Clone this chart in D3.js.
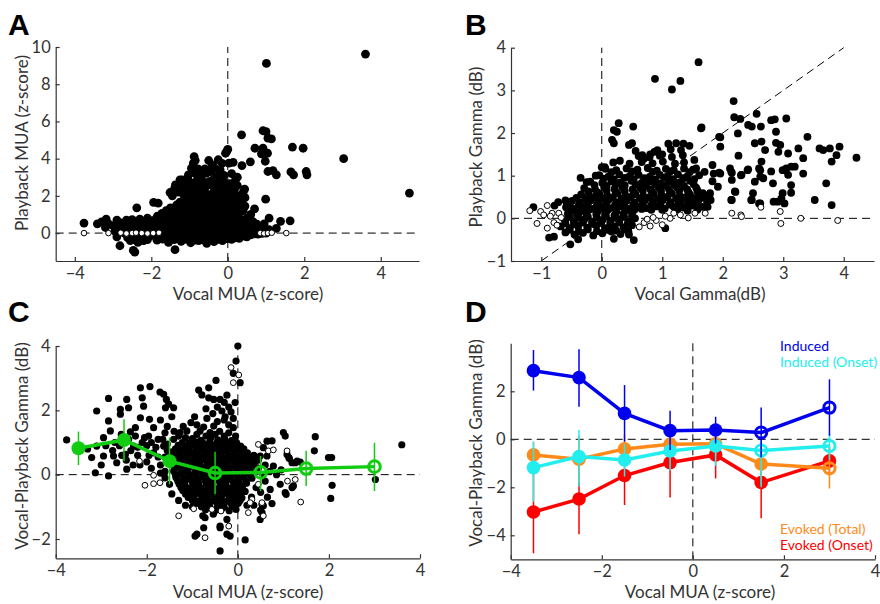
<!DOCTYPE html>
<html>
<head>
<meta charset="utf-8">
<script src="https://cdn.jsdelivr.net/npm/d3@7"></script>
<style>
    body { margin: 0; background: #fff; }
    text { font-family: Lato, "Open Sans", sans-serif; }
</style>
</head>
<body>
<svg id="fig" width="880" height="604"></svg>
<script>
// ---- data ----
// A: vocal MUA vs playback MUA (z-score)
const aFilled = [
    [1.01,9.12],[3.6,9.62],[4.75,2.15],[3.03,4.0],[0.36,5.28],[0.92,5.5],[1.0,5.45],[1.05,5.1],[1.14,5.06],[0.71,4.56],
    [0.92,4.56],[1.04,4.29],[0.88,4.26],[0.98,3.86],[0.59,3.83],[0.37,3.63],[0.14,3.8],[0.03,3.76],[-0.03,4.38],[0.0,4.5],
    [1.69,4.62],[1.97,4.56],[1.05,3.31],[1.27,3.13],[1.18,3.36],[1.65,3.29],[1.72,3.13],[2.05,3.31],[2.07,3.13],[0.99,1.82],
    [1.08,0.8],[1.38,0.63],[1.63,0.66],[1.27,0.25],[1.08,0.18],
    [-3.76,0.54],[-3.41,0.5],[-3.18,0.75],[-3.12,0.5],[-2.38,1.36],[-2.82,-0.68],[-2.47,-0.93],[-2.43,-1.02],[-1.38,-0.89],
    [-1.94,1.65],[-1.82,1.61],
    [-1.51,2.18],[-1.25,2.86],[-1.03,3.13],[-0.88,4.11],[-0.9,3.76],[-0.95,3.49],[-0.91,3.3],[-1.27,2.5],[-0.96,2.18],
    [-1.37,2.59],[-1.19,2.86],[-1.16,2.5],[-0.67,3.13],[-0.41,3.67],[-0.25,3.94],[-0.06,4.29],[-0.3,3.04],[-0.7,3.04],
    [-0.73,2.59],[-0.56,3.22],[-0.49,2.77],[-0.21,2.77],[-0.03,2.5],[0.14,2.42],[0.44,2.36],[0.4,2.18],[0.15,1.57],
    [0.17,2.3],[0.05,2.2],[-0.2,3.4],
    [-1.45,2.0],[-1.3,2.2],[-1.15,2.05],[-1.0,2.35],[-0.85,2.4],[-0.95,2.7],[-0.8,2.85],[-0.65,2.75],[-0.55,2.55],
    [-0.4,2.85],[-0.25,2.6],[-0.1,2.75],[0.05,2.65],[0.25,2.55],[-1.1,2.65],[-1.05,2.95],[-0.85,3.2],[-0.78,3.45],
    [-0.6,3.45],[-0.45,3.3],[-0.35,3.5],[-0.1,3.1],[0.1,3.2],[0.25,3.0],[-0.5,3.9],[-0.85,3.9],[-0.15,3.75],[0.2,2.85],
    [-0.6,2.2],[-1.2,2.3],[-1.4,2.35],[-0.3,2.0],[0.15,2.0],[-0.05,2.0],[0.3,1.75],[-0.2,1.7],[-0.45,1.75],
    [-2.9,0.7],[-2.8,0.55],[-2.75,0.2],[-2.65,0.7],[-2.6,0.35],[-2.55,0.05],[-2.5,0.72],[-2.45,-0.35],[-2.4,0.45],
    [-2.35,0.15],[-2.3,0.75],[-2.25,-0.2],[-2.2,0.5],[-2.15,0.2],[-2.1,0.8],[-2.05,-0.05],[-2.9,-0.2],[-2.55,-0.4],
    [-2.62,-0.25],[-2.35,-0.5],[-3.0,0.4],[-2.95,0.1],
    [-2.85,0.35],[-2.7,0.45],[-2.7,0.0],[-2.5,0.25],[-2.45,0.6],[-2.3,0.35],[-2.25,0.6],[-2.15,0.45],[-2.1,0.05],
    [-2.3,-0.05],[-2.45,-0.15],[-2.0,0.65],[-2.6,0.55],[-3.2,0.3],[-3.3,0.6],[-2.1,-0.35],[-2.2,-0.4],
    [0.6,0.4],[0.75,0.2],[0.9,0.35],[1.0,0.0],[0.95,0.5],[0.5,0.8],[0.6,1.0],[0.4,1.2],[0.7,1.3],[0.45,1.45],
    [0.25,1.3],[0.35,1.6],[0.45,1.9],[0.3,2.0],
    [-1.85,-0.38],[-1.55,-0.5],[-1.22,-0.44],[-0.97,-0.52],[-0.76,-0.4],[-0.55,-0.55],[-0.36,-0.46],[-0.14,-0.41],[0.1,-0.34],[0.3,-0.28],
    [-1.7,-0.32],[-1.4,-0.35],[-1.1,-0.33],[-0.85,-0.38],[-0.65,-0.36],[-0.45,-0.35],[-0.25,-0.34],[-0.02,-0.3],[0.2,-0.25],[0.5,-0.2],
    [-2.0,-0.14],[-1.82,-0.22],[-1.66,-0.26],[-1.47,-0.15],[-1.31,-0.24],[-1.12,-0.19],[-0.96,-0.13],[-0.81,-0.26],[-0.64,-0.2],
    [-0.5,-0.31],[-0.34,-0.19],[-0.21,-0.26],[-0.05,-0.14],[0.11,-0.21],[0.26,-0.1],[0.44,-0.16],[0.61,-0.09],[0.79,-0.05],
    [-1.9,-0.05],[-1.6,-0.08],[-1.38,-0.1],[-1.2,-0.05],[-1.03,-0.06],[-0.88,-0.1],[-0.72,-0.05],[-0.57,-0.1],[-0.42,-0.06],
    [-0.27,-0.09],[-0.12,-0.05],[0.03,-0.08],[0.18,-0.04],[0.35,-0.06],[0.52,-0.02],[0.7,-0.04],[0.9,-0.02],
    [-1.98,0.11],[-1.84,0.01],[-1.71,0.06],[-1.56,0.12],[-1.41,-0.01],[-1.26,0.06],[-1.09,0.11],[-0.94,0.0],[-0.79,0.06],
    [-0.66,0.12],[-0.51,0.01],[-0.34,0.05],[-0.19,0.11],[-0.04,-0.01],[0.11,0.06],[0.24,0.12],[0.41,0.01],[0.56,0.11],
    [0.71,0.04],[0.86,0.12],[1.0,0.16],
    [-1.92,0.22],[-1.78,0.17],[-1.63,0.2],[-1.48,0.24],[-1.33,0.17],[-1.18,0.16],[-1.03,0.22],[-0.87,0.18],[-0.73,0.17],
    [-0.57,0.22],[-0.43,0.18],[-0.28,0.16],[-0.13,0.22],[0.03,0.18],[0.18,0.16],[0.33,0.22],[0.48,0.18],[0.63,0.2],[0.78,0.22],
    [-2.02,0.36],[-1.86,0.29],[-1.71,0.24],[-1.54,0.36],[-1.39,0.31],[-1.24,0.24],[-1.11,0.36],[-0.94,0.29],[-0.81,0.24],
    [-0.64,0.36],[-0.49,0.31],[-0.36,0.24],[-0.19,0.36],[-0.06,0.29],[0.11,0.24],[0.26,0.36],[0.39,0.3],[0.56,0.24],
    [0.69,0.36],[0.86,0.31],
    [-1.9,0.47],[-1.78,0.44],[-1.63,0.48],[-1.47,0.45],[-1.32,0.43],[-1.17,0.48],[-1.02,0.45],[-0.87,0.42],[-0.72,0.48],
    [-0.57,0.45],[-0.42,0.43],[-0.27,0.48],[-0.12,0.45],[0.03,0.42],[0.18,0.47],[0.38,0.44],[0.58,0.45],[0.76,0.48],
    [-1.94,0.61],[-1.79,0.54],[-1.66,0.66],[-1.49,0.6],[-1.36,0.54],[-1.19,0.66],[-1.06,0.59],[-0.89,0.54],[-0.76,0.66],
    [-0.59,0.6],[-0.46,0.54],[-0.29,0.66],[-0.16,0.59],[0.01,0.54],[0.14,0.66],[0.31,0.5],[0.49,0.56],[0.66,0.61],
    [-1.88,0.76],[-1.73,0.72],[-1.58,0.77],[-1.43,0.74],[-1.28,0.7],[-1.13,0.77],[-0.98,0.74],[-0.83,0.7],[-0.68,0.77],
    [-0.53,0.74],[-0.38,0.7],[-0.23,0.77],[-0.08,0.73],[0.08,0.76],[0.22,0.72],[0.4,0.7],[0.58,0.74],
    [-1.84,0.91],[-1.71,0.84],[-1.54,0.96],[-1.41,0.9],[-1.24,0.84],[-1.11,0.96],[-0.94,0.89],[-0.81,0.84],[-0.64,0.96],
    [-0.51,0.9],[-0.34,0.84],[-0.21,0.96],[-0.04,0.86],[0.11,0.91],[0.29,0.84],
    [-1.72,1.06],[-1.57,1.02],[-1.42,1.07],[-1.27,1.04],[-1.12,1.0],[-0.97,1.07],[-0.82,1.04],[-0.67,1.0],[-0.52,1.07],
    [-0.37,1.04],[-0.22,1.0],[-0.07,1.06],[0.1,1.03],[0.22,1.1],
    [-1.61,1.21],[-1.44,1.14],[-1.31,1.26],[-1.14,1.2],[-1.01,1.14],[-0.84,1.26],[-0.71,1.19],[-0.54,1.14],[-0.41,1.26],
    [-0.24,1.2],[-0.11,1.14],[0.06,1.26],
    [-1.5,1.36],[-1.37,1.32],[-1.22,1.37],[-1.07,1.33],[-0.92,1.3],[-0.77,1.37],[-0.62,1.34],[-0.47,1.3],[-0.32,1.37],
    [-0.17,1.33],[-0.02,1.3],[0.12,1.4],
    [-1.34,1.51],[-1.19,1.56],[-1.06,1.44],[-0.89,1.5],[-0.76,1.56],[-0.59,1.44],[-0.46,1.51],[-0.29,1.56],[-0.16,1.44],
    [-1.25,1.66],[-1.12,1.62],[-0.97,1.68],[-0.82,1.64],[-0.67,1.6],[-0.52,1.67],[-0.37,1.63],[-0.2,1.6],[-0.05,1.65],
    [-1.09,1.81],[-0.96,1.86],[-0.79,1.74],[-0.66,1.8],[-0.49,1.86],[-0.31,1.75],[0.01,1.79],
    [-1.0,1.96],[-0.87,1.92],[-0.72,1.98],[-0.57,1.94],[-0.42,1.92],[-0.25,1.97],
    [-0.86,2.11],[-0.69,2.21],[-0.56,2.04],[-0.39,2.16],[-0.21,2.09],
    [-0.76,2.51],[-0.61,2.41],[-0.44,2.61],[-0.34,2.31],[-0.14,2.36]
];
const aOpen = [
    [-3.76,0],[-3.12,0],[-2.8,0.02],[-2.65,-0.02],[-2.5,0],[-2.4,0.02],[-2.25,0],[-2.1,-0.02],[-1.95,0],
    [-1.8,0.02],[0.85,0],[0.95,-0.02],[1.05,0],[1.15,0.02],[1.53,0]
];

// B: vocal gamma vs playback gamma (dB)
const bFilled = [
    [1.6,3.66],[0.88,3.27],[1.16,3.02],[1.3,3.22],[2.18,2.75],[2.19,2.37],[2.29,2.33],[2.56,2.45],[2.42,2.19],[2.48,2.15],
    [2.63,2.15],[2.8,2.3],[2.86,2.32],[3.05,2.34],[2.88,2.03],[2.25,1.99],[1.65,2.13],[1.96,1.9],[1.96,1.68],[2.53,1.76],
    [2.64,1.8],[2.7,1.6],[2.88,1.77],[2.95,1.72],[2.92,1.56],[3.08,1.52],[3.25,1.64],[3.4,1.91],[3.6,1.64],[3.66,1.6],
    [3.77,1.64],[3.93,1.68],[3.88,1.48],[3.8,1.33],[4.21,1.42],[2.26,1.47],[2.15,1.07],[2.15,0.9],[2.31,1.02],[2.42,1.15],
    [2.62,1.13],[2.62,0.98],[2.67,0.94],[2.53,0.86],[2.8,1.1],[2.83,0.82],[2.99,1.13],[3.05,1.17],[3.13,1.21],[3.19,1.21],
    [3.08,1.02],[3.33,1.05],[3.13,0.78],[3.13,0.6],[2.99,0.59],[2.97,0.47],[2.91,0.39],[2.84,0.39],[3.02,0.35],[3.52,0.43],
    [3.71,0.82],[3.8,0.31],[3.33,1.41],[2.2,0.63],[2.15,0.43],[2.48,0.43],[2.62,0.35],[2.5,0.59],[2.12,1.17],[1.79,0.59],
    [1.85,1.05],[1.96,1.05],
    [0.25,2.03],[0.2,2.07],[0.17,1.84],[0.2,1.76],[0.52,2.15],[0.28,2.23],[0.45,1.72],[0.5,1.76],[0.67,1.48],[0.87,1.56],
    [0.92,1.6],[1.23,1.76],[1.64,2.11],[1.94,1.91],[1.53,1.37],[1.56,1.17],[1.7,1.09],[1.83,1.25],[1.94,1.07],[1.83,0.87],
    [1.92,0.74],[1.78,0.55],[1.8,0.43],[1.67,0.59],[1.75,0.27],[2.14,1.09],[2.3,1.01],[2.41,1.13],[2.21,0.62],[2.14,0.43],
    [2.47,0.43],[2.6,0.35],[2.6,1.17],[2.64,1.33],[1.35,1.75],[1.45,1.7],[1.1,1.75],[0.8,1.5],[1.0,1.5],[0.0,1.2],
    [-0.1,1.0],[0.05,1.2],[-0.35,0.95],[-0.25,0.85],[0.3,1.35],[0.7,1.4],
    [1.05,-0.23],[0.2,-0.48],[0.53,-0.51],[0.45,-0.38],[-0.52,-0.61],[-0.39,-0.49],[-0.87,-0.45],[-0.79,-0.43],
    [-1.13,0.26],[-0.78,0.3],[-0.72,0.38],[-0.6,0.42],
    [-0.6,-0.33],[-0.45,-0.38],[-0.31,-0.34],[-0.14,-0.4],[0.01,-0.35],[0.16,-0.31],[0.31,-0.37],[0.44,-0.3],
    [-0.53,-0.27],[-0.38,-0.3],[-0.23,-0.26],[-0.08,-0.3],[0.09,-0.27],[0.24,-0.29],[0.38,-0.26],
    [-0.68,-0.19],[-0.53,-0.23],[-0.39,-0.18],[-0.24,-0.22],[-0.09,-0.17],[0.06,-0.23],[0.21,-0.19],[0.36,-0.21],[0.5,-0.16],
    [-0.6,-0.12],[-0.46,-0.14],[-0.31,-0.1],[-0.16,-0.13],[-0.01,-0.11],[0.14,-0.14],[0.29,-0.1],[0.43,-0.12],
    [-0.61,-0.04],[-0.46,-0.07],[-0.29,-0.03],[-0.16,-0.08],[0.01,-0.04],[0.14,-0.06],[0.29,-0.02],[0.46,-0.07],[0.55,0.0],
    [-0.53,0.03],[-0.38,0.01],[-0.23,0.04],[-0.08,0.02],[0.07,0.05],[0.22,0.01],[0.37,0.03],[0.5,0.05],
    [-0.56,0.11],[-0.41,0.08],[-0.26,0.12],[-0.09,0.09],[0.06,0.12],[0.21,0.07],[0.36,0.11],[0.5,0.13],[1.42,0.18],[1.58,0.2],
    [-0.51,0.18],[-0.36,0.16],[-0.21,0.2],[-0.06,0.17],[0.09,0.19],[0.24,0.15],[0.39,0.18],[0.54,0.2],[0.66,0.22],
    [0.82,0.2],[1.0,0.2],[1.25,0.2],
    [-0.59,0.26],[-0.44,0.23],[-0.29,0.27],[-0.16,0.22],[0.01,0.26],[0.14,0.24],[0.31,0.28],[0.44,0.22],[0.59,0.27],
    [0.74,0.24],[0.91,0.28],[1.04,0.23],[1.19,0.27],[1.36,0.25],[1.49,0.3],[1.66,0.27],
    [-0.53,0.33],[-0.38,0.31],[-0.23,0.35],[-0.08,0.32],[0.07,0.34],[0.22,0.31],[0.37,0.35],[0.52,0.32],[0.67,0.34],
    [0.82,0.31],[0.97,0.35],[1.12,0.32],[1.27,0.34],[1.42,0.32],[1.57,0.35],
    [-0.49,0.41],[-0.36,0.38],[-0.19,0.42],[-0.06,0.39],[0.11,0.43],[0.24,0.38],[0.41,0.41],[0.54,0.37],[0.71,0.42],
    [0.84,0.39],[1.01,0.43],[1.14,0.38],[1.31,0.41],[1.44,0.4],[1.61,0.44],[1.74,0.39],
    [-0.42,0.48],[-0.27,0.46],[-0.12,0.5],[0.03,0.47],[0.18,0.49],[0.33,0.46],[0.48,0.5],[0.63,0.47],[0.78,0.49],
    [0.93,0.46],[1.08,0.5],[1.23,0.47],[1.38,0.49],[1.53,0.46],[1.68,0.5],
    [-0.34,0.56],[-0.21,0.53],[-0.04,0.57],[0.09,0.54],[0.26,0.58],[0.39,0.53],[0.56,0.56],[0.69,0.52],[0.86,0.57],
    [0.99,0.54],[1.16,0.58],[1.29,0.53],[1.46,0.56],[1.59,0.6],
    [-0.22,0.63],[-0.07,0.61],[0.08,0.65],[0.23,0.62],[0.38,0.64],[0.53,0.61],[0.68,0.65],[0.83,0.62],[0.98,0.64],
    [1.13,0.61],[1.28,0.65],[1.43,0.62],[1.58,0.66],
    [-0.29,0.71],[-0.11,0.68],[0.04,0.72],[0.21,0.69],[0.34,0.73],[0.51,0.68],[0.64,0.71],[0.81,0.67],[0.94,0.72],
    [1.11,0.69],[1.24,0.73],[1.41,0.68],[1.56,0.72],
    [-0.12,0.78],[0.08,0.76],[0.23,0.8],[0.38,0.77],[0.56,0.79],[0.73,0.76],[0.88,0.8],[1.03,0.77],[1.2,0.79],
    [1.36,0.76],[1.52,0.8],
    [-0.19,0.86],[0.01,0.83],[0.16,0.87],[0.31,0.84],[0.49,0.88],[0.66,0.83],[0.79,0.86],[0.96,0.82],[1.11,0.87],
    [1.29,0.84],[1.46,0.88],
    [0.03,0.93],[0.2,0.91],[0.38,0.95],[0.53,0.92],[0.7,0.94],[0.88,0.91],[1.03,0.95],[1.18,0.92],[1.35,0.94],[1.53,0.92],
    [-0.04,1.01],[0.11,0.98],[0.29,1.03],[0.46,0.99],[0.61,1.02],[0.79,0.97],[0.96,1.02],[1.09,0.99],[1.26,1.03],
    [1.41,0.98],[1.61,1.01],
    [0.16,1.08],[0.5,1.1],[0.84,1.09],[1.13,1.1],[1.45,1.08],
    [0.06,1.16],[0.24,1.13],[0.41,1.17],[0.59,1.14],[0.76,1.18],[0.91,1.12],[1.06,1.16],[1.19,1.13],[1.36,1.17],[1.51,1.14],
    [0.19,1.31],[0.46,1.28],[0.66,1.32],[0.84,1.29],[1.01,1.33],[1.21,1.28],[1.36,1.31],
    [0.61,1.46],[0.79,1.43],[0.96,1.47],[1.16,1.44],[1.34,1.48],
    [0.56,1.58],[1.14,1.62],[1.31,1.6]
];
const bOpen = [
    [-1.19,0.18],[-1.07,-0.12],[-1.01,0.16],[-0.96,0.08],[-0.9,-0.23],[-0.82,0.12],[-0.79,-0.1],[-0.74,-0.16],[-0.71,0.12],
    [-0.67,0.02],[2.15,0.12],[2.3,0.08],[2.31,0.04],[2.63,0.26],[2.95,0.16],[2.96,-0.12],[3.29,0],[3.9,-0.05],[1.43,0.01],
    [1.54,0.12],[1.71,0.12],[1.19,0.12],[1.13,0],[1.3,0.08],[0.7,-0.1],[0.8,-0.18],[0.9,-0.05],[1.0,-0.15],[0.85,0.02],
    [0.75,-0.02],[1.05,0.05],[0.62,-0.2],[-0.9,0.3],[-0.85,0.05]
];

// C: vocal MUA vs vocal-playback gamma
const cFilled = [
    [0.0,4.0],[-0.04,3.53],[-0.1,3.15],[0.05,2.86],[-0.48,2.93],[-0.64,2.7],[-0.86,2.63],[-0.79,2.48],[-0.64,2.39],
    [-0.53,2.34],[-0.39,2.34],[-0.24,2.47],[-0.06,2.24],[-0.35,1.98],[-0.15,1.95],[-0.28,1.8],[-0.68,1.75],[-0.75,1.48],
    [-0.83,1.36],[-1.03,1.62],[-0.61,1.31],[-0.53,1.51],[-0.1,1.46],[-0.2,1.3],[-0.4,1.35],
    [-1.3,1.2],[-1.15,1.15],[-0.9,1.25],[-0.7,1.2],[-0.5,1.25],[-0.3,1.2],[-0.05,1.2],[-0.9,1.55],[-0.45,1.65],
    [-0.2,1.55],[-0.3,1.7],[-0.55,1.9],[-0.1,1.75],[-0.45,2.1],[-0.2,2.1],[-0.3,2.25],[-0.7,2.05],[-1.2,1.5],
    [-1.4,1.35],[-1.55,1.5],[-1.45,1.8],[-1.7,1.7],[-0.95,1.8],
    [-1.71,2.57],[-1.63,2.5],[-1.57,2.34],[-1.52,2.19],[-1.41,2.08],[-1.59,2.08],[-1.93,2.74],[-2.14,2.7],[-2.1,2.39],
    [-2.07,2.13],[-2.44,2.34],[-2.4,2.08],[-2.58,2.03],[-2.58,1.88],[-2.14,1.77],[-1.94,1.72],[-1.85,1.46],[-1.96,1.2],
    [-2.25,1.46],[-2.36,1.33],[-2.56,1.25],[-2.8,1.36],[-2.84,1.67],[-3.1,1.98],[-2.84,2.37],[-3.1,0.89],[-2.95,0.58],
    [-3.21,0.53],[-3.13,0.06],[-2.84,-0.04],[-3.76,1.08],[-2.66,0.37],[-2.73,0.58],[-2.44,0.17],[-2.47,0.63],[-2.29,0.89],
    [-1.85,0.68],[-1.63,0.89],[-1.41,1.1],[-1.27,1.31],[-1.12,1.36],[-2.0,0.4],[-2.2,0.6],[-1.7,0.3],[-1.6,0.55],
    [-2.6,0.9],[-2.4,1.1],[-2.1,1.0],[-1.75,1.1],[-1.6,1.3],
    [-2.9,0.9],[-2.75,0.75],[-2.55,0.6],[-2.35,0.75],[-2.2,0.85],[-2.0,0.9],[-1.9,1.0],[-1.8,0.85],[-2.05,1.15],
    [-2.25,1.2],[-2.45,0.45],[-2.3,0.3],[-2.15,0.3],[-1.95,0.6],[-1.75,0.55],[-1.55,0.75],[-1.55,0.95],[-1.65,1.1],
    [-2.7,1.0],[-2.95,1.15],[-3.3,0.8],[-3.0,0.3],[-1.9,0.2],[-1.6,-0.1],[-1.7,0.05],
    [1.0,1.31],[1.04,1.2],[1.7,1.18],[2.06,0.53],[1.99,0.53],[1.68,0.74],[1.08,0.63],[1.13,0.5],[1.19,0.37],[1.26,0.37],
    [1.37,0.39],[2.07,-0.33],[2.04,-0.74],[3.6,0.93],[3.02,-0.15],[1.04,-0.56],[1.19,-0.4],[0.75,1.05],[0.49,0.58],
    [0.64,0.58],[0.78,0.27],[0.49,-1.39],[0.53,-1.18],[0.56,-0.97],[0.16,-2.03],[-0.24,-1.85],[-0.17,-1.91],[-0.39,-2.37],
    [-0.9,-1.85],[-0.94,-1.91],[-0.75,-1.65],[-0.72,-1.34],[-0.77,-1.28],[-0.39,-1.65],[-0.24,-1.39],[-0.53,-1.18],
    [1.12,0.53],[1.3,0.42],[1.22,-0.35],[1.06,-0.61],[0.93,-0.3],[0.71,-0.46],[0.64,1.04],[0.56,0.84],[0.53,-0.92],
    [0.5,-1.1],[-0.54,-1.23],[-0.39,-1.6],[0.45,0.2],[0.55,0.0],[0.6,-0.2],[0.4,-0.4],[0.3,-0.7],[0.35,0.6],[-1.5,-0.3],
    [-1.45,-0.6],[-1.3,-0.8],[-1.6,0.1],[-1.0,-1.0],[-1.15,-0.95],
    [0.45,0.45],[0.6,0.3],[0.7,0.1],[0.85,0.0],[0.95,0.15],[0.5,-0.55],[0.65,-0.7],[0.75,-0.9],[0.35,-0.95],[0.2,-0.95],
    [-1.0,1.12],[-0.81,1.07],[-0.6,1.13],[-0.44,1.08],[-0.29,1.11],[-0.14,1.06],
    [-1.22,1.0],[-1.07,0.98],[-0.92,1.02],[-0.77,0.99],[-0.62,1.01],[-0.47,0.97],[-0.33,1.02],[-0.18,0.98],[-0.03,1.0],
    [-1.31,0.91],[-1.14,0.87],[-1.01,0.93],[-0.86,0.88],[-0.69,0.92],[-0.56,0.87],[-0.39,0.91],[-0.26,0.88],[-0.09,0.93],[0.06,0.89],
    [-1.37,0.8],[-1.22,0.78],[-1.07,0.82],[-0.92,0.79],[-0.77,0.81],[-0.62,0.77],[-0.47,0.82],[-0.32,0.78],[-0.17,0.81],
    [-0.02,0.79],[0.13,0.8],
    [-1.44,0.71],[-1.29,0.67],[-1.16,0.73],[-0.99,0.68],[-0.86,0.72],[-0.69,0.67],[-0.56,0.71],[-0.39,0.68],[-0.26,0.73],
    [-0.09,0.69],[0.06,0.72],[0.21,0.68],
    [-1.42,0.6],[-1.27,0.58],[-1.12,0.62],[-0.97,0.59],[-0.82,0.61],[-0.67,0.57],[-0.52,0.62],[-0.37,0.58],[-0.22,0.61],
    [-0.07,0.59],[0.08,0.6],[0.23,0.58],
    [-1.51,0.52],[-1.34,0.47],[-1.21,0.51],[-1.04,0.48],[-0.91,0.53],[-0.74,0.49],[-0.61,0.52],[-0.44,0.47],[-0.31,0.51],
    [-0.14,0.48],[0.01,0.53],[0.14,0.49],[0.29,0.52],
    [-1.42,0.4],[-1.27,0.38],[-1.12,0.42],[-0.97,0.39],[-0.82,0.41],[-0.67,0.37],[-0.52,0.42],[-0.37,0.38],[-0.22,0.41],
    [-0.07,0.39],[0.08,0.4],[0.23,0.38],[0.38,0.41],
    [-1.46,0.31],[-1.29,0.27],[-1.16,0.33],[-0.99,0.28],[-0.86,0.32],[-0.69,0.27],[-0.56,0.31],[-0.39,0.28],[-0.26,0.33],
    [-0.09,0.29],[0.06,0.32],[0.19,0.27],[0.34,0.31],
    [-1.37,0.2],[-1.22,0.18],[-1.07,0.22],[-0.92,0.19],[-0.77,0.21],[-0.62,0.17],[-0.47,0.22],[-0.32,0.18],[-0.17,0.21],
    [-0.02,0.19],[0.13,0.2],[0.28,0.18],[0.43,0.21],
    [-1.41,0.11],[-1.24,0.07],[-1.11,0.12],[-0.94,0.08],[-0.81,0.13],[-0.64,0.09],[-0.51,0.11],[-0.34,0.07],[-0.21,0.12],
    [-0.04,0.08],[0.11,0.12],[0.24,0.07],[0.39,0.1],
    [-1.37,0.0],[-1.22,-0.02],[-1.07,0.02],[-0.92,-0.01],[-0.77,0.01],[-0.62,-0.03],[-0.47,0.02],[-0.32,-0.02],[-0.17,0.01],
    [-0.02,-0.01],[0.13,0.0],[0.28,-0.02],
    [-1.36,-0.09],[-1.19,-0.13],[-1.06,-0.08],[-0.89,-0.12],[-0.76,-0.07],[-0.59,-0.11],[-0.46,-0.09],[-0.29,-0.13],
    [-0.16,-0.08],[0.01,-0.12],[0.14,-0.07],[0.31,-0.11],
    [-1.32,-0.2],[-1.17,-0.22],[-1.02,-0.18],[-0.87,-0.21],[-0.72,-0.19],[-0.57,-0.23],[-0.42,-0.18],[-0.27,-0.22],
    [-0.12,-0.19],[0.03,-0.21],[0.18,-0.2],
    [-1.29,-0.29],[-1.16,-0.33],[-0.99,-0.28],[-0.86,-0.32],[-0.69,-0.27],[-0.56,-0.31],[-0.39,-0.29],[-0.26,-0.33],
    [-0.09,-0.28],[0.04,-0.32],[0.19,-0.27],
    [-1.25,-0.4],[-1.1,-0.42],[-0.95,-0.38],[-0.8,-0.41],[-0.65,-0.39],[-0.5,-0.43],[-0.35,-0.38],[-0.2,-0.42],
    [-0.05,-0.39],[0.1,-0.41],
    [-1.21,-0.49],[-1.04,-0.53],[-0.91,-0.48],[-0.74,-0.52],[-0.61,-0.47],[-0.44,-0.51],[-0.31,-0.49],[-0.14,-0.53],
    [-0.01,-0.48],[0.16,-0.52],
    [-1.15,-0.6],[-1.0,-0.62],[-0.85,-0.58],[-0.7,-0.61],[-0.55,-0.59],[-0.4,-0.63],[-0.25,-0.58],[-0.1,-0.62],[0.05,-0.59],
    [-1.09,-0.71],[-0.96,-0.67],[-0.79,-0.72],[-0.66,-0.68],[-0.49,-0.73],[-0.36,-0.69],[-0.19,-0.71],[-0.06,-0.67],[0.09,-0.72],
    [-1.0,-0.8],[-0.85,-0.82],[-0.7,-0.78],[-0.55,-0.81],[-0.4,-0.79],[-0.25,-0.83],[-0.1,-0.78],[0.05,-0.8],
    [-0.91,-0.89],[-0.74,-0.93],[-0.61,-0.88],[-0.44,-0.92],[-0.31,-0.87],[-0.14,-0.91],[0.01,-0.89],
    [-0.8,-1.0],[-0.62,-1.02],[-0.45,-0.98],[-0.3,-1.01],[-0.12,-0.99],
    [-0.71,-1.09],[-0.51,-1.13],[-0.36,-1.07],[-0.19,-1.12],[-0.04,-1.08]
];
const cOpen = [
    [-0.15,3.33],[-0.1,2.86],[0.02,3.1],[0.45,0.94],[0.67,0.74],[0.78,0.77],[1.08,0.74],[1.09,-0.2],[1.26,-0.15],
    [1.38,-0.85],[0.56,-1.28],[0.23,-1.18],[0.53,-0.87],[0.31,-0.77],[-1.85,-0.02],[-1.71,-0.25],[-1.85,-0.28],
    [-2.04,-0.33],[-2.16,0.42],[-1.3,-1.28],[-0.97,-1.06],[-0.72,-1.96],[-0.57,-1.08],[-0.37,-1.13],[-0.2,-1.6],
    [0.27,-0.87],[0.45,-0.3]
];

// binned means (C and D share the same bins)
const binCenters = [-3.5, -2.5, -1.5, -0.5, 0.5, 1.5, 3];
const gammaMean = [0.82, 1.08, 0.42, 0.05, 0.07, 0.19, 0.25];
const gammaLo   = [0.3, 0.42, -0.3, -0.61, -0.51, -0.35, -0.51];
const gammaHi   = [1.34, 1.72, 1.15, 0.71, 0.58, 0.74, 0.99];
const gammaOpen = [false, false, false, true, true, true, true];

const seriesNames = ["Induced", "Induced (Onset)", "Evoked (Total)", "Evoked (Onset)"];
const inducedMean = [2.86, 2.57, 1.08, 0.36, 0.39, 0.28, 1.32];
const inducedLo   = [2.03, 1.36, -0.1, -0.45, -0.17, -0.75, 0.15];
const inducedHi   = [3.72, 3.75, 2.26, 1.19, 0.94, 1.32, 2.5];
const inducedOnMean = [-1.18, -0.72, -0.86, -0.49, -0.28, -0.47, -0.28];
const inducedOnLo   = [-2.6, -1.97, -1.55, -1.3, -1.1, -2.0, -0.86];
const inducedOnHi   = [-0.1, 0.39, -0.2, 0.3, 0.1, -0.05, 0.25];
const evokedMean = [-0.65, -0.83, -0.4, -0.21, -0.19, -1.03, -1.21];
const evokedLo   = [-1.2, -1.8, -1.0, -0.8, -0.7, -1.9, -2.05];
const evokedHi   = [-0.1, 0.15, 0.2, 0.4, 0.3, -0.15, -0.35];
const evokedOnMean = [-3.03, -2.49, -1.51, -0.97, -0.65, -1.8, -0.9];
const evokedOnLo   = [-4.75, -3.96, -2.74, -2.43, -1.63, -3.29, -1.5];
const evokedOnHi   = [-1.31, -1.0, -0.28, 0.49, 0.33, -0.31, -0.3];

// tick values
const ticksA_x = [-4, -2, 0, 2, 4], ticksA_y = [0, 2, 4, 6, 8, 10];
const ticksB_x = [-1, 0, 1, 2, 3, 4], ticksB_y = [-1, 0, 1, 2, 3, 4];
const ticksC_x = [-4, -2, 0, 2, 4], ticksC_y = [-2, 0, 2, 4];
const ticksD_x = [-4, -2, 0, 2, 4], ticksD_y = [-4, -2, 0, 2];

// ---- drawing ----
const svg = d3.select("#fig");
const axisColor = "#333";
const tickFmt = d3.format("d");

function makeAxes(xDom, xRange, yDom, yRange, xTicks, yTicks) {
    let x = d3.scaleLinear().domain(xDom).range(xRange);
    let y = d3.scaleLinear().domain(yDom).range(yRange);
    let g = svg.append("g");
    // guides + marks in this layer, axes on top
    let plot = g.append("g");
    let xa = g.append("g")
        .attr("transform", `translate(0,${yRange[0]})`)
        .call(d3.axisBottom(x).tickValues(xTicks).tickFormat(tickFmt)
            .tickSizeInner(-4).tickSizeOuter(0).tickPadding(6));
    let ya = g.append("g")
        .attr("transform", `translate(${xRange[0]},0)`)
        .call(d3.axisLeft(y).tickValues(yTicks).tickFormat(tickFmt)
            .tickSizeInner(-4).tickSizeOuter(0).tickPadding(5));
    [xa, ya].forEach(function (a) {
        a.selectAll("path, line").attr("stroke", axisColor).attr("stroke-width", 1.2);
        a.selectAll("text").attr("font-size", 16.5).attr("fill", axisColor)
            .style("font-family", "Lato, 'Open Sans', sans-serif");
    });
    return { plot: plot, x: x, y: y };
}

function dashed(p, x1, y1, x2, y2) {
    p.plot.append("line")
        .attr("x1", p.x(x1)).attr("y1", p.y(y1))
        .attr("x2", p.x(x2)).attr("y2", p.y(y2))
        .attr("stroke", "#000").attr("stroke-width", 1)
        .attr("stroke-dasharray", "8,5");
}

function dots(p, filled, open, rFilled, rOpen) {
    p.plot.append("g").selectAll("circle").data(filled).enter()
        .append("circle")
        .attr("cx", d => p.x(d[0])).attr("cy", d => p.y(d[1]))
        .attr("r", rFilled).attr("fill", "#000");
    p.plot.append("g").selectAll("circle").data(open).enter()
        .append("circle")
        .attr("cx", d => p.x(d[0])).attr("cy", d => p.y(d[1]))
        .attr("r", rOpen).attr("fill", "#fff").attr("stroke", "#000").attr("stroke-width", 1);
}

function meanSeries(p, mean, lo, hi, openFlags, color, r) {
    let rows = binCenters.map((b, i) => ({ x: b, m: mean[i], lo: lo[i], hi: hi[i], open: openFlags[i] }));
    let g = p.plot.append("g");
    g.selectAll("line").data(rows).enter()
        .append("line")
        .attr("x1", d => p.x(d.x)).attr("x2", d => p.x(d.x))
        .attr("y1", d => p.y(d.lo)).attr("y2", d => p.y(d.hi))
        .attr("stroke", color).attr("stroke-width", 1.5);
    g.append("path")
        .datum(rows)
        .attr("fill", "none").attr("stroke", color).attr("stroke-width", 3.5)
        .attr("d", d3.line().x(d => p.x(d.x)).y(d => p.y(d.m)));
    g.selectAll("circle").data(rows).enter()
        .append("circle")
        .attr("cx", d => p.x(d.x)).attr("cy", d => p.y(d.m))
        .attr("r", d => d.open ? r - 1.2 : r)
        .attr("fill", d => d.open ? "none" : color)
        .attr("stroke", color).attr("stroke-width", d => d.open ? 3 : 0);
}

function label(txt, x, y, opts) {
    let t = svg.append("text").attr("x", x).attr("y", y).text(txt)
        .attr("font-size", opts.size || 17)
        .attr("fill", opts.color || axisColor)
        .attr("text-anchor", opts.anchor || "middle");
    if (opts.rotate) t.attr("transform", `rotate(-90,${x},${y})`);
    if (opts.bold) t.attr("font-weight", "bold").style("font-family", "'Liberation Sans', Arial, sans-serif");
    return t;
}

// Panel A
let pA = makeAxes([-4.5, 5], [55.7, 419], [-1.5, 10], [261, 47], ticksA_x, ticksA_y);
dashed(pA, -4.5, 0, 5, 0);
dashed(pA, 0, -1.5, 0, 10);
dots(pA, aFilled, aOpen, 4.4, 2.8);

// Panel B
let pB = makeAxes([-1.5, 4.5], [511, 874], [-1, 4], [261, 47.7], ticksB_x, ticksB_y);
dashed(pB, -1.5, 0, 4.5, 0);
dashed(pB, 0, -1, 0, 4);
dashed(pB, -1, -1, 4, 4);
dots(pB, bFilled, bOpen, 3.9, 3.0);

// Panel C
let pC = makeAxes([-4, 4], [55.7, 420], [-2.6, 4], [558.3, 346], ticksC_x, ticksC_y);
dashed(pC, -4, 0, 4, 0);
dashed(pC, 0, -2.6, 0, 4);
dots(pC, cFilled, cOpen, 3.6, 2.9);
meanSeries(pC, gammaMean, gammaLo, gammaHi, gammaOpen, "#11cc11", 7);

// Panel D
let pD = makeAxes([-4, 4], [510.7, 875], [-5, 4], [559.3, 343.3], ticksD_x, ticksD_y);
dashed(pD, -4, 0, 4, 0);
dashed(pD, 0, -5, 0, 4);
let dColors = ["#0000ee", "#22eeee", "#ff8a1a", "#ff0000"];
meanSeries(pD, evokedOnMean, evokedOnLo, evokedOnHi, [false, false, false, false, false, false, false], dColors[3], 6.8);
meanSeries(pD, evokedMean, evokedLo, evokedHi, [false, false, false, false, false, false, true], dColors[2], 6.8);
meanSeries(pD, inducedOnMean, inducedOnLo, inducedOnHi, [false, false, false, false, false, true, true], dColors[1], 6.8);
meanSeries(pD, inducedMean, inducedLo, inducedHi, [false, false, false, false, false, true, true], dColors[0], 6.8);

// legend text in D
label(seriesNames[0], 780, 350.5, { size: 14, anchor: "start", color: dColors[0] });
label(seriesNames[1], 780, 367, { size: 14, anchor: "start", color: dColors[1] });
label(seriesNames[2], 780, 534, { size: 14, anchor: "start", color: dColors[2] });
label(seriesNames[3], 780, 550, { size: 14, anchor: "start", color: dColors[3] });

// axis titles
label("Vocal MUA (z-score)", 248, 300, {});
label("Playback MUA (z-score)", 28, 143, { rotate: true });
label("Vocal Gamma(dB)", 700, 300, {});
label("Playback Gamma (dB)", 482, 147, { rotate: true });
label("Vocal MUA (z-score)", 248, 598, {});
label("Vocal-Playback Gamma (dB)", 28, 446, { rotate: true });
label("Vocal MUA (z-score)", 700, 598, {});
label("Vocal-Playback Gamma (dB)", 482, 443, { rotate: true });

// panel letters
label("A", 8, 35, { size: 30, anchor: "start", color: "#000", bold: true });
label("B", 465, 35, { size: 30, anchor: "start", color: "#000", bold: true });
label("C", 8, 322, { size: 30, anchor: "start", color: "#000", bold: true });
label("D", 465, 322, { size: 30, anchor: "start", color: "#000", bold: true });
</script>
</body>
</html>
